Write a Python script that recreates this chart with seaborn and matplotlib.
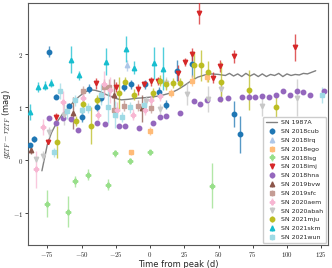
import matplotlib
matplotlib.use("Agg")
import matplotlib.pyplot as plt
from matplotlib.ticker import FuncFormatter
import pandas as pd
import seaborn as sns

# SN 1987A comparison curve
t_87a = [-79, -77, -75, -72, -68, -64, -61, -56, -52, -48, -44, -40, -36, -32, -28, -24, -21,
         -16, -10, -4, 3, 8, 15, 20, 25, 30, 35, 40, 45, 50, 55, 58, 61, 64, 67, 70, 73, 76,
         79, 82, 85, 88, 91, 94, 97, 100, 103, 106, 109, 112, 115, 118, 121]
c_87a = [-0.20, 0.05, 0.30, 0.52, 0.72, 0.87, 0.95, 1.10, 1.20, 1.28, 1.33, 1.32, 1.29, 1.24,
         1.20, 1.16, 1.14, 1.15, 1.17, 1.18, 1.20, 1.22, 1.27, 1.33, 1.41, 1.50, 1.57, 1.61,
         1.63, 1.62, 1.60, 1.64, 1.59, 1.63, 1.58, 1.64, 1.59, 1.63, 1.58, 1.63, 1.58, 1.62,
         1.60, 1.64, 1.58, 1.63, 1.60, 1.62, 1.61, 1.64, 1.63, 1.66, 1.69]

names = ["SN 2018cub", "SN 2018lrq", "SN 2018ego", "SN 2018lsg", "SN 2018imj", "SN 2018hna",
         "SN 2019bvw", "SN 2019sfc", "SN 2020aem", "SN 2020abah", "SN 2021mju", "SN 2021skm",
         "SN 2021wun"]

t_cub = [-88, -84.5, -74, -69, -59, -50, -44.5, -39, -36, -19, -14, -4, 6.5, 12, 20, 31, 61, 66]
c_cub = [0.28, 0.40, 2.05, 1.20, 1.03, 0.82, 1.35, 1.01, 1.18, 1.39, 1.43, 1.43, 1.29, 1.05,
         1.69, 1.82, 0.87, 0.49]
e_cub = [0.05, 0.05, 0.1, 0.05, 0.05, 0.1, 0.08, 0.08, 0.08, 0.08, 0.08, 0.08, 0.1, 0.08,
         0.2, 0.25, 0.25, 0.35]

t_lrq = [-17]
c_lrq = [1.79]
e_lrq = [0.1]

t_ego = [-14, 0, 15, 31, 41.5]
c_ego = [0.15, 0.55, 1.27, 1.50, 1.58]
e_ego = [0.05, 0.08, 0.08, 0.1, 0.1]

t_lsg = [-75, -60, -55, -45, -30.5, -25.5, -15, 0, 45]
c_lsg = [-0.82, -0.97, -0.40, -0.27, -0.46, 0.13, -0.02, 0.15, -0.48]
e_lsg = [0.25, 0.3, 0.1, 0.1, 0.1, 0.06, 0.06, 0.05, 0.42]

t_imj = [-74.5, -69, -39.5, -25, -9, -4.5, 1, 6, 20.5, 25.5, 31, 36, 46, 51, 61, 106]
c_imj = [0.35, 0.81, 1.45, 1.38, 1.34, 1.44, 1.49, 1.50, 1.65, 1.85, 2.00, 2.78, 1.56, 1.78,
         1.96, 2.13]
e_imj = [0.05, 0.08, 0.1, 0.1, 0.1, 0.06, 0.08, 0.08, 0.15, 0.08, 0.12, 0.2, 0.1, 0.12,
         0.12, 0.25]

t_hna = [-73.5, -68.5, -63.5, -57.5, -53, -38.5, -33, -23, -18, -8, 2, 7, 12, 22, 32, 36.5,
         41.5, 51, 57, 67, 72, 77, 82, 87, 92, 97, 102, 107, 112, 117, 127]
c_hna = [0.80, 0.70, 0.80, 0.78, 0.57, 0.70, 0.68, 0.65, 0.65, 0.61, 0.70, 0.82, 0.84, 0.90,
         1.12, 1.06, 1.14, 1.16, 1.18, 1.20, 1.20, 1.20, 1.22, 1.20, 1.24, 1.31, 1.24, 1.30,
         1.28, 1.24, 1.31]
e_hna = [0.03] * len(t_hna)

t_bvw = [-87, -56, -26, -6]
c_bvw = [0.19, 0.89, 1.23, 0.98]
e_bvw = [0.08, 0.3, 0.3, 0.25]

t_sfc = [-49, -34, -30, -26, -19, -9, 1]
c_sfc = [1.30, 1.39, 1.38, 0.95, 1.03, 1.03, 0.99]
e_sfc = [0.1, 0.15, 0.15, 0.1, 0.1, 0.1, 0.1]

t_aem = [-83, -78, -63.5, -49, -38, -33.5, -29, -24, -12.5, -3.5, 1, 7]
c_aem = [-0.17, 0.63, 1.10, 1.18, 0.86, 1.43, 1.33, 0.95, 0.86, 0.95, 1.14, 1.22]
e_aem = [0.35, 0.15, 0.2, 0.15, 0.1, 0.25, 0.25, 0.15, 0.1, 0.1, 0.1, 0.1]

t_abah = [-83, -78, -73.5, -62.5, -3, 7, 12, 27, 42, 52, 82, 107]
c_abah = [0.02, 0.08, 0.53, 0.86, 1.12, 0.97, 1.46, 1.25, 1.16, 1.35, 1.03, 1.18]
e_abah = [0.05, 0.1, 0.1, 0.2, 0.1, 0.1, 0.12, 0.2, 0.25, 0.15, 0.2, 0.35]

t_mju = [-68, -54, -49, -43, -38.5, -23, -18, -12, 2, 7, 12, 17, 22, 32, 37, 42, 52, 72, 92]
c_mju = [0.35, 0.74, 1.06, 0.65, 1.14, 1.27, 1.47, 1.24, 1.27, 1.50, 1.43, 1.46, 1.46, 1.79,
         1.79, 1.67, 1.48, 1.33, 1.01]
e_mju = [0.3, 0.1, 0.1, 0.35, 0.1, 0.3, 0.1, 0.1, 0.1, 0.1, 0.1, 0.1, 0.1, 0.25, 0.3, 0.2,
         0.38, 0.38, 0.2]

t_skm = [-87.5, -82, -77, -72, -57.5, -52, -32, -17.5, -12, 3, 9.5]
c_skm = [0.91, 1.38, 1.41, 1.46, 1.90, 1.60, 1.86, 2.10, 1.75, 1.84, 1.73]
e_skm = [0.15, 0.1, 0.08, 0.08, 0.25, 0.08, 0.25, 0.25, 0.12, 0.3, 0.4]

t_wun = [-70, -65.5, -60.5, -55, -50, -45, -36, -30.5, -25.5, -20.5, -14.5, -4.5, 125.5]
c_wun = [0.15, 1.30, 0.93, 1.13, 0.95, 0.99, 1.24, 1.01, 0.86, 0.82, 1.00, 1.05, 1.24]
e_wun = [0.08, 0.15, 0.15, 0.1, 0.15, 0.1, 0.2, 0.3, 0.25, 0.1, 0.1, 0.1, 0.15]

times = [t_cub, t_lrq, t_ego, t_lsg, t_imj, t_hna, t_bvw, t_sfc, t_aem, t_abah, t_mju, t_skm, t_wun]
colours = [c_cub, c_lrq, c_ego, c_lsg, c_imj, c_hna, c_bvw, c_sfc, c_aem, c_abah, c_mju, c_skm, c_wun]
errors = [e_cub, e_lrq, e_ego, e_lsg, e_imj, e_hna, e_bvw, e_sfc, e_aem, e_abah, e_mju, e_skm, e_wun]

palette_idx = [0, 1, 3, 5, 6, 8, 10, 11, 13, 15, 16, 18, 19]
markers = ["o", "^", "s", "P", "v"]

sns.set_theme(style="ticks")
plt.rcParams["mathtext.fontset"] = "cm"
tab20 = sns.color_palette("tab20")

fig, ax = plt.subplots(figsize=(3.32, 2.68), dpi=100)

df87 = pd.DataFrame({"t": t_87a, "c": c_87a})
sns.lineplot(data=df87, x="t", y="c", ax=ax, color="grey", lw=1, label="SN 1987A", zorder=3)

for i, name in enumerate(names):
    col = tab20[palette_idx[i]]
    ax.errorbar(times[i], colours[i], yerr=errors[i], fmt=markers[i % 5], color=col, ms=3.2,
                elinewidth=1, ecolor=(*col, 0.75), capsize=0, label=name, zorder=4)

ax.set_xlim(-89, 130)
ax.set_ylim(-1.6, 2.97)
ax.set_xticks([-75, -50, -25, 0, 25, 50, 75, 100, 125])
ax.set_yticks([-1, 0, 1, 2])
ax.xaxis.set_major_formatter(FuncFormatter(lambda v, _: f"${v:.0f}$"))
ax.yaxis.set_major_formatter(FuncFormatter(lambda v, _: f"${v:.0f}$"))
ax.tick_params(labelsize=5, length=2, width=0.6, pad=1.5)
for s in ax.spines.values():
    s.set_linewidth(0.8)
    s.set_color("0.35")

ax.set_xlabel("Time from peak (d)", fontsize=6, labelpad=1)
ax.set_ylabel(r"$g_{ZTF} - r_{ZTF}$ (mag)", fontsize=6, labelpad=0)

ax.legend(loc="lower right", fontsize=4.5, frameon=True, labelspacing=0.55,
          handlelength=1.8, handletextpad=0.6, borderpad=0.5, borderaxespad=0.3,
          framealpha=1, edgecolor="0.8")

fig.subplots_adjust(left=0.085, right=0.988, bottom=0.086, top=0.989)
fig.savefig("out.png", dpi=100)
